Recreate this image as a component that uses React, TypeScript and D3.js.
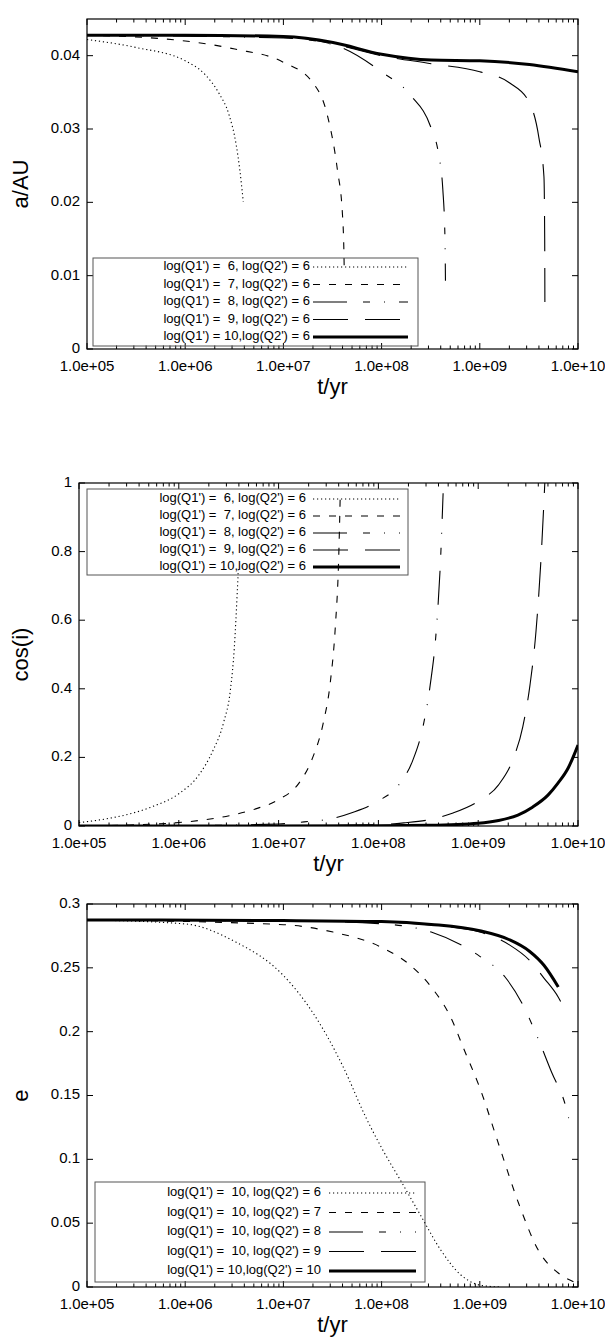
import React from 'react';
import * as d3 from 'd3';

const W = 605;
const H = 1338;
const FONT = "'Liberation Sans', Arial, Helvetica, sans-serif";

// x axis (shared)
const tTicks = [1e5, 1e6, 1e7, 1e8, 1e9, 1e10];
const tTickLabels = ['1.0e+05', '1.0e+06', '1.0e+07', '1.0e+08', '1.0e+09', '1.0e+10'];

// y axes
const aTicks = [0, 0.01, 0.02, 0.03, 0.04];
const aTickLabels = ['0', '0.01', '0.02', '0.03', '0.04'];
const cosTicks = [0, 0.2, 0.4, 0.6, 0.8, 1];
const cosTickLabels = ['0', '0.2', '0.4', '0.6', '0.8', '1'];
const eTicks = [0, 0.05, 0.1, 0.15, 0.2, 0.25, 0.3];
const eTickLabels = ['0', '0.05', '0.1', '0.15', '0.2', '0.25', '0.3'];

// legends
const legendQ1 = [
  "log(Q1') =  6, log(Q2') = 6",
  "log(Q1') =  7, log(Q2') = 6",
  "log(Q1') =  8, log(Q2') = 6",
  "log(Q1') =  9, log(Q2') = 6",
  "log(Q1') = 10,log(Q2') = 6",
];
const legendQ2 = [
  "log(Q1') =  10, log(Q2') = 6",
  "log(Q1') =  10, log(Q2') = 7",
  "log(Q1') =  10, log(Q2') = 8",
  "log(Q1') =  10, log(Q2') = 9",
  "log(Q1') = 10,log(Q2') = 10",
];

// a/AU  [t (yr), a]
const aQ6 = [[1e5, 0.0422], [3.2e5, 0.0411], [1e6, 0.0393], [1.6e6, 0.0374], [2.2e6, 0.0349], [2.8e6, 0.0319], [3.3e6, 0.0279], [3.6e6, 0.0244], [3.9e6, 0.0201]];
const aQ7 = [[1e5, 0.0428], [1e6, 0.0420], [3.2e6, 0.0409], [1e7, 0.0391], [2e7, 0.0363], [2.8e7, 0.0319], [3.55e7, 0.0244], [4e7, 0.0182], [4.12e7, 0.0140], [4.17e7, 0.0103]];
const aQ8 = [[1e5, 0.0428], [1e7, 0.0424], [3.2e7, 0.0415], [1e8, 0.0378], [2e8, 0.0345], [3.2e8, 0.0301], [3.8e8, 0.0266], [4.2e8, 0.0218], [4.42e8, 0.0150], [4.47e8, 0.0093]];
const aQ9 = [[1e5, 0.0428], [1e7, 0.0426], [3.2e7, 0.0416], [1e8, 0.0400], [3.2e8, 0.0389], [1e9, 0.0378], [2e9, 0.0363], [3.2e9, 0.0336], [4e9, 0.0288], [4.5e9, 0.0235], [4.58e9, 0.0150], [4.6e9, 0.0064]];
const aQ10 = [[1e5, 0.0428], [1e6, 0.0428], [1e7, 0.0426], [3.2e7, 0.0418], [1e8, 0.0402], [3.2e8, 0.0394], [1e9, 0.0393], [3.2e9, 0.0388], [1e10, 0.0378]];

// cos(i)
const cQ6 = [[1e5, 0.010], [1.8e5, 0.020], [3.2e5, 0.035], [5.6e5, 0.058], [1e6, 0.094], [1.6e6, 0.15], [2.2e6, 0.22], [2.8e6, 0.30], [3.3e6, 0.40], [3.6e6, 0.52], [3.85e6, 0.68], [3.95e6, 0.75]];
const cQ7 = [[1e5, 0.0], [3.2e5, 0.003], [1e6, 0.010], [1.8e6, 0.018], [3.2e6, 0.030], [5.6e6, 0.048], [1e7, 0.077], [1.6e7, 0.125], [2.2e7, 0.20], [2.8e7, 0.30], [3.3e7, 0.42], [3.7e7, 0.58], [4e7, 0.78], [4.15e7, 0.97]];
const cQ8 = [[1e5, 0.0], [1e6, 0.001], [1e7, 0.006], [1.8e7, 0.012], [3.2e7, 0.020], [5.6e7, 0.040], [1e8, 0.073], [1.6e8, 0.12], [2.2e8, 0.19], [2.8e8, 0.29], [3.3e8, 0.41], [3.8e8, 0.57], [4.2e8, 0.78], [4.45e8, 0.97]];
const cQ9 = [[1e5, 0.0], [1e7, 0.0005], [1e8, 0.004], [1.8e8, 0.009], [3.2e8, 0.018], [5.6e8, 0.038], [1e9, 0.072], [1.6e9, 0.12], [2.2e9, 0.19], [2.8e9, 0.29], [3.3e9, 0.41], [3.8e9, 0.57], [4.3e9, 0.80], [4.65e9, 1.0]];
const cQ10 = [[1e5, 0.0], [1e8, 0.0005], [3.2e8, 0.002], [1e9, 0.008], [1.6e9, 0.016], [2.5e9, 0.032], [3.5e9, 0.055], [5e9, 0.09], [6.3e9, 0.125], [8e9, 0.17], [1e10, 0.236]];

// e
const eQ6 = [[1e5, 0.2875], [1e6, 0.2844], [3.2e6, 0.2706], [1e7, 0.244], [2e7, 0.2147], [4e7, 0.1735], [7e7, 0.132], [1e8, 0.109], [1.6e8, 0.082], [2.5e8, 0.056], [4e8, 0.029], [6.3e8, 0.010], [1e9, 0.0015], [1.6e9, 0.0]];
const eQ7 = [[1e5, 0.2875], [1e7, 0.2838], [3.2e7, 0.278], [1e8, 0.266], [2e8, 0.2515], [3.2e8, 0.235], [5e8, 0.212], [7e8, 0.185], [1e9, 0.156], [1.6e9, 0.109], [2.5e9, 0.065], [4e9, 0.028], [6.3e9, 0.011], [9.1e9, 0.004]];
const eQ8 = [[1e5, 0.2875], [1e7, 0.287], [1e8, 0.2845], [3.2e8, 0.278], [1e9, 0.259], [1.8e9, 0.243], [2.7e9, 0.222], [3.85e9, 0.196], [5.4e9, 0.168], [7.4e9, 0.143], [8.5e9, 0.124]];
const eQ9 = [[1e5, 0.2875], [1e8, 0.2858], [3.2e8, 0.2835], [1e9, 0.278], [2e9, 0.268], [3.2e9, 0.256], [4.5e9, 0.242], [6.3e9, 0.227], [7.6e9, 0.215]];
const eQ10 = [[1e5, 0.2875], [1e7, 0.287], [1e8, 0.2862], [3.2e8, 0.284], [1e9, 0.279], [2e9, 0.272], [3.2e9, 0.263], [4.5e9, 0.252], [6.3e9, 0.235]];

const lineStyles = [
  { dash: '1.2 2.8', width: 1.1 },
  { dash: '7 9', width: 1.1 },
  { dash: '34 16 7 14 1 14', width: 1.1 },
  { dash: '35 17', width: 1.1 },
  { dash: null, width: 3 },
];

const minorTicks = [];
for (let d = 1e5; d < 1e10; d *= 10) for (let k = 2; k < 10; k++) minorTicks.push(d * k);

const Panel = (props) => {
  const { id, left, right, top, bottom, yDomain, yTicks, yLabels, yTitle, series, legend, legendBox } = props;
  const x = d3.scaleLog().domain([1e5, 1e10]).range([left, right]);
  const y = d3.scaleLinear().domain(yDomain).range([bottom, top]);
  const line = d3.line().x((d) => x(d[0])).y((d) => y(d[1])).curve(d3.curveMonotoneX);
  const lb = legendBox;

  return (
    <g>
      <defs>
        <clipPath id={'clip' + id}>
          <rect x={left} y={top} width={right - left} height={bottom - top} />
        </clipPath>
      </defs>

      {/* ticks */}
      {tTicks.map((t, i) => (
        <g key={'xt' + i}>
          <line x1={x(t)} x2={x(t)} y1={bottom} y2={bottom - 6} stroke="#000" />
          <line x1={x(t)} x2={x(t)} y1={top} y2={top + 6} stroke="#000" />
          <text x={x(t)} y={bottom + 18} textAnchor="middle" dominantBaseline="middle" fontSize={15} fontFamily={FONT}>{tTickLabels[i]}</text>
        </g>
      ))}
      {minorTicks.map((t, i) => (
        <g key={'xm' + i}>
          <line x1={x(t)} x2={x(t)} y1={bottom} y2={bottom - 3.5} stroke="#000" />
          <line x1={x(t)} x2={x(t)} y1={top} y2={top + 3.5} stroke="#000" />
        </g>
      ))}
      {yTicks.map((v, i) => (
        <g key={'yt' + i}>
          <line x1={left} x2={left + 6} y1={y(v)} y2={y(v)} stroke="#000" />
          <line x1={right} x2={right - 6} y1={y(v)} y2={y(v)} stroke="#000" />
          <text x={left - 7} y={y(v)} textAnchor="end" dominantBaseline="middle" fontSize={15} fontFamily={FONT}>{yLabels[i]}</text>
        </g>
      ))}

      <text x={(left + right) / 2} y={bottom + 39} textAnchor="middle" dominantBaseline="middle" fontSize={22} fontFamily={FONT}>t/yr</text>
      <text transform={`translate(22, ${(top + bottom) / 2}) rotate(-90)`} textAnchor="middle" dominantBaseline="middle" fontSize={22} fontFamily={FONT}>{yTitle}</text>

      {/* legend */}
      <rect x={lb.x} y={lb.y} width={lb.w} height={lb.h} fill="none" stroke="#555" strokeWidth={1} />
      {legend.map((s, i) => (
        <g key={'lg' + i}>
          <text x={lb.textX} y={lb.row0 + i * lb.gap} textAnchor="end" dominantBaseline="middle" fontSize={13} fontFamily={FONT} style={{ whiteSpace: 'pre' }}>{s}</text>
          <line x1={lb.s0} x2={lb.s1} y1={lb.row0 + i * lb.gap} y2={lb.row0 + i * lb.gap} stroke="#000" strokeWidth={lineStyles[i].width} strokeDasharray={lineStyles[i].dash || undefined} />
        </g>
      ))}

      {/* curves */}
      <g clipPath={`url(#clip${id})`}>
        {series.map((s, i) => (
          <path key={'s' + i} d={line(s)} fill="none" stroke="#000" strokeWidth={lineStyles[i].width} strokeDasharray={lineStyles[i].dash || undefined} />
        ))}
      </g>

      <rect x={left} y={top} width={right - left} height={bottom - top} fill="none" stroke="#000" strokeWidth={1.2} />
    </g>
  );
};

const App = () => {
  return (
    <svg width={W} height={H} style={{ position: 'absolute', left: 0, top: 0, background: '#fff' }}>
      <rect width={W} height={H} fill="#fff" />
      <Panel id="a" left={87} right={578} top={19} bottom={349} yDomain={[0, 0.045]}
        yTicks={aTicks} yLabels={aTickLabels} yTitle="a/AU"
        series={[aQ6, aQ7, aQ8, aQ9, aQ10]} legend={legendQ1}
        legendBox={{ x: 93, y: 258, w: 325, h: 88, textX: 310, s0: 313, s1: 408, row0: 267, gap: 17.5 }} />
      <Panel id="c" left={79} right={578} top={483} bottom={826} yDomain={[0, 1]}
        yTicks={cosTicks} yLabels={cosTickLabels} yTitle="cos(i)"
        series={[cQ6, cQ7, cQ8, cQ9, cQ10]} legend={legendQ1}
        legendBox={{ x: 87, y: 489, w: 321, h: 86, textX: 306, s0: 313, s1: 400, row0: 499, gap: 17 }} />
      <Panel id="e" left={87} right={578} top={904} bottom={1287} yDomain={[0, 0.3]}
        yTicks={eTicks} yLabels={eTickLabels} yTitle="e"
        series={[eQ6, eQ7, eQ8, eQ9, eQ10]} legend={legendQ2}
        legendBox={{ x: 95, y: 1182, w: 330, h: 100, textX: 321, s0: 329, s1: 416, row0: 1193, gap: 19.5 }} />
    </svg>
  );
};

export default App;
